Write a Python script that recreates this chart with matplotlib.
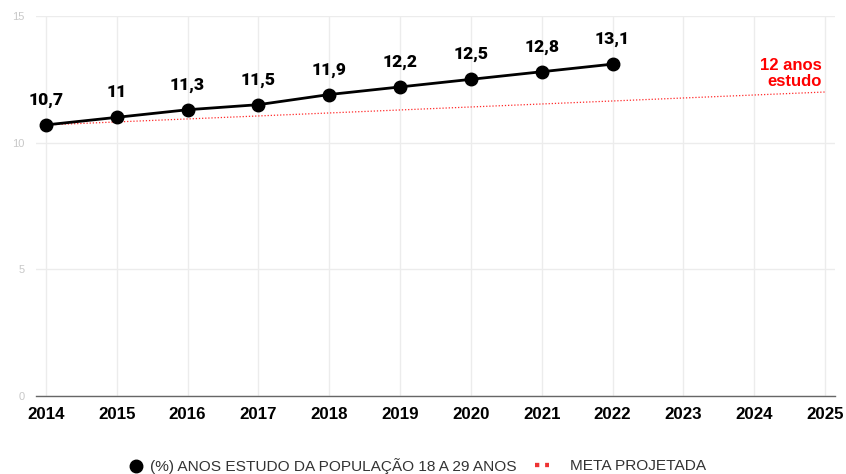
import matplotlib.pyplot as plt
from matplotlib.lines import Line2D

# data
anos = [2014, 2015, 2016, 2017, 2018, 2019, 2020, 2021, 2022]
valores = [10.7, 11.0, 11.3, 11.5, 11.9, 12.2, 12.5, 12.8, 13.1]
rotulos = ["10,7", "11", "11,3", "11,5", "11,9", "12,2", "12,5", "12,8", "13,1"]
meta_anos = [2014, 2025]
meta_valores = [10.7, 12.0]
ticks_x = list(range(2014, 2026))
ticks_y = [0, 5, 10, 15]

fig = plt.figure(figsize=(8.46, 4.74), dpi=100)
ax = fig.add_axes([36 / 846, 78 / 474, 799 / 846, 380 / 474])

ax.plot(meta_anos, meta_valores, color="#ff2a2a", lw=0.9, linestyle=(0, (1, 1.5)), zorder=2)
ax.plot(anos, valores, color="black", lw=2, marker="o", markersize=9, zorder=3)

for x, y, t in zip(anos, valores, rotulos):
    ax.annotate(t, (x, y), xytext=(0, 14.5), textcoords="offset points",
                ha="center", va="baseline", fontsize=12.6, fontweight="heavy",
                family="Roboto", color="black")

ax.text(2024.96, 12.1, "12 anos\nestudo", ha="right", va="bottom", color="#ff0000",
        fontsize=12, fontweight="bold", family="Liberation Sans", linespacing=1.15)

ax.set_xlim(2013.86, 2025.14)
ax.set_ylim(0, 15)
ax.set_xticks(ticks_x)
ax.set_yticks(ticks_y)
ax.set_xticklabels([str(a) for a in ticks_x], fontsize=12.2, fontweight="bold", family="Liberation Sans")
ax.set_yticklabels([str(v) for v in ticks_y], fontsize=8, color="#c8c8c8", family="Liberation Sans")
ax.tick_params(axis="both", length=0)
ax.tick_params(axis="x", pad=8)
ax.tick_params(axis="y", pad=8)

ax.grid(True, color="#ececec", lw=1)
ax.set_axisbelow(True)
for s in ["top", "right", "left"]:
    ax.spines[s].set_visible(False)
ax.spines["bottom"].set_color("#666666")
ax.spines["bottom"].set_linewidth(1)

# legend, two parts
leg_font = {"family": "Liberation Sans", "size": 11.1}
fs_px = 11.1 * 100 / 72
h1 = Line2D([], [], color="black", marker="o", linestyle="none", markersize=9)
fig.legend([h1], ["(%) ANOS ESTUDO DA POPULAÇÃO 18 A 29 ANOS"], loc="center left",
           bbox_to_anchor=(129.8 / 846, 8 / 474), frameon=False, prop=leg_font,
           labelcolor="#333333", borderpad=0, borderaxespad=0,
           handlelength=12.3 / fs_px, handletextpad=7.8 / fs_px)
h2 = Line2D([], [], color="#ee3333", linestyle=(0, (1, 1.35)), lw=3.1)
fig.legend([h2], ["META PROJETADA"], loc="center left",
           bbox_to_anchor=(535 / 846, 8 / 474), frameon=False, prop=leg_font,
           labelcolor="#333333", borderpad=0, borderaxespad=0,
           handlelength=14.4 / fs_px, handletextpad=20.6 / fs_px)

fig.savefig("out.png", dpi=100)
